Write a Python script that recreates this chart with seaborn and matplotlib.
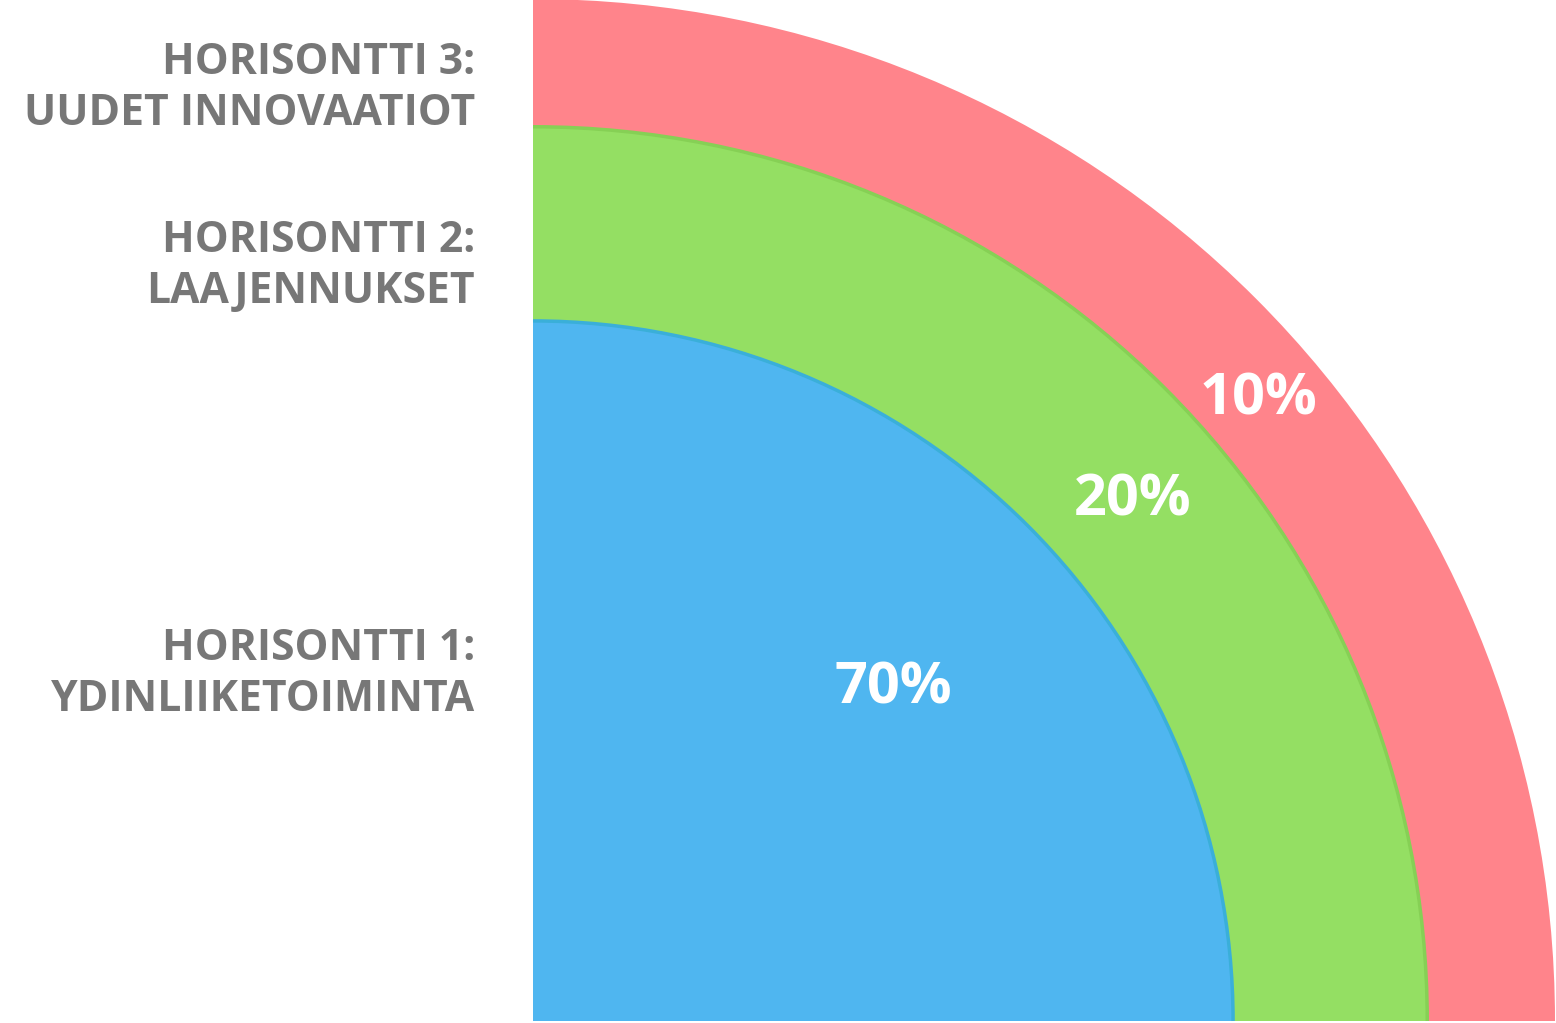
import matplotlib
matplotlib.use('Agg')

import numpy as np
import matplotlib.pyplot as plt
import seaborn as sns
from matplotlib.patches import Wedge, Arc

# =========================
# DATA
# =========================
horizons = ["HORISONTTI 1:\nYDINLIIKETOIMINTA",
            "HORISONTTI 2:\nLAAJENNUKSET",
            "HORISONTTI 3:\nUUDET INNOVAATIOT"]
shares = [70, 20, 10]
ring_radius = [0.685, 0.875, 1.0]      # outer radius of each ring
colors = ["#4FB6F0", "#94DF63", "#FF848B"]
edge_colors = ["#3AAFD9", "#86D055", None]

# =========================
# FIGURE
# =========================
sns.set_theme(style="white")
plt.rcParams['font.family'] = ['Open Sans', 'DejaVu Sans']

W, H = 1556, 1023
fig = plt.figure(figsize=(W / 100, H / 100), dpi=100)
ax = fig.add_axes([533 / W, 0, (W - 533) / W, 1])
ax.set_xlim(0, W - 533)
ax.set_ylim(-2, H - 2)
ax.axis('off')

R = 1022
# draw outer ring first so inner ones sit on top
for r, c, ec in reversed(list(zip(ring_radius, colors, edge_colors))):
    ax.add_patch(Wedge((0, 0), r * R, 0, 90, facecolor=c, edgecolor='none', linewidth=0))
    if ec is not None:
        ax.add_patch(Arc((0, 0), 2 * r * R, 2 * r * R, theta1=0, theta2=90,
                         color=ec, linewidth=2.5))

# percent labels
inner = [0.0] + ring_radius[:-1]
label_pos = [0.483, None, None]
angles = [43.2, 41.2, 40.8]
for i, (s, r0, r1) in enumerate(zip(shares, inner, ring_radius)):
    rr = label_pos[i] if label_pos[i] is not None else (r0 + r1) / 2
    a = np.deg2rad(angles[i])
    ax.text(rr * R * np.cos(a), rr * R * np.sin(a) - 5, f"{s}%",
            color="white", fontsize=41.5, fontweight="bold",
            ha="center", va="center")

# horizon labels on the left
label_y = [674, 266, 88]
for txt, y in zip(horizons, label_y):
    fig.text(475 / W, 1 - y / H, txt, color="#777777", fontsize=30.7,
             fontweight="bold", ha="right", va="center", linespacing=1.24)

plt.savefig("out.png", dpi=100)
